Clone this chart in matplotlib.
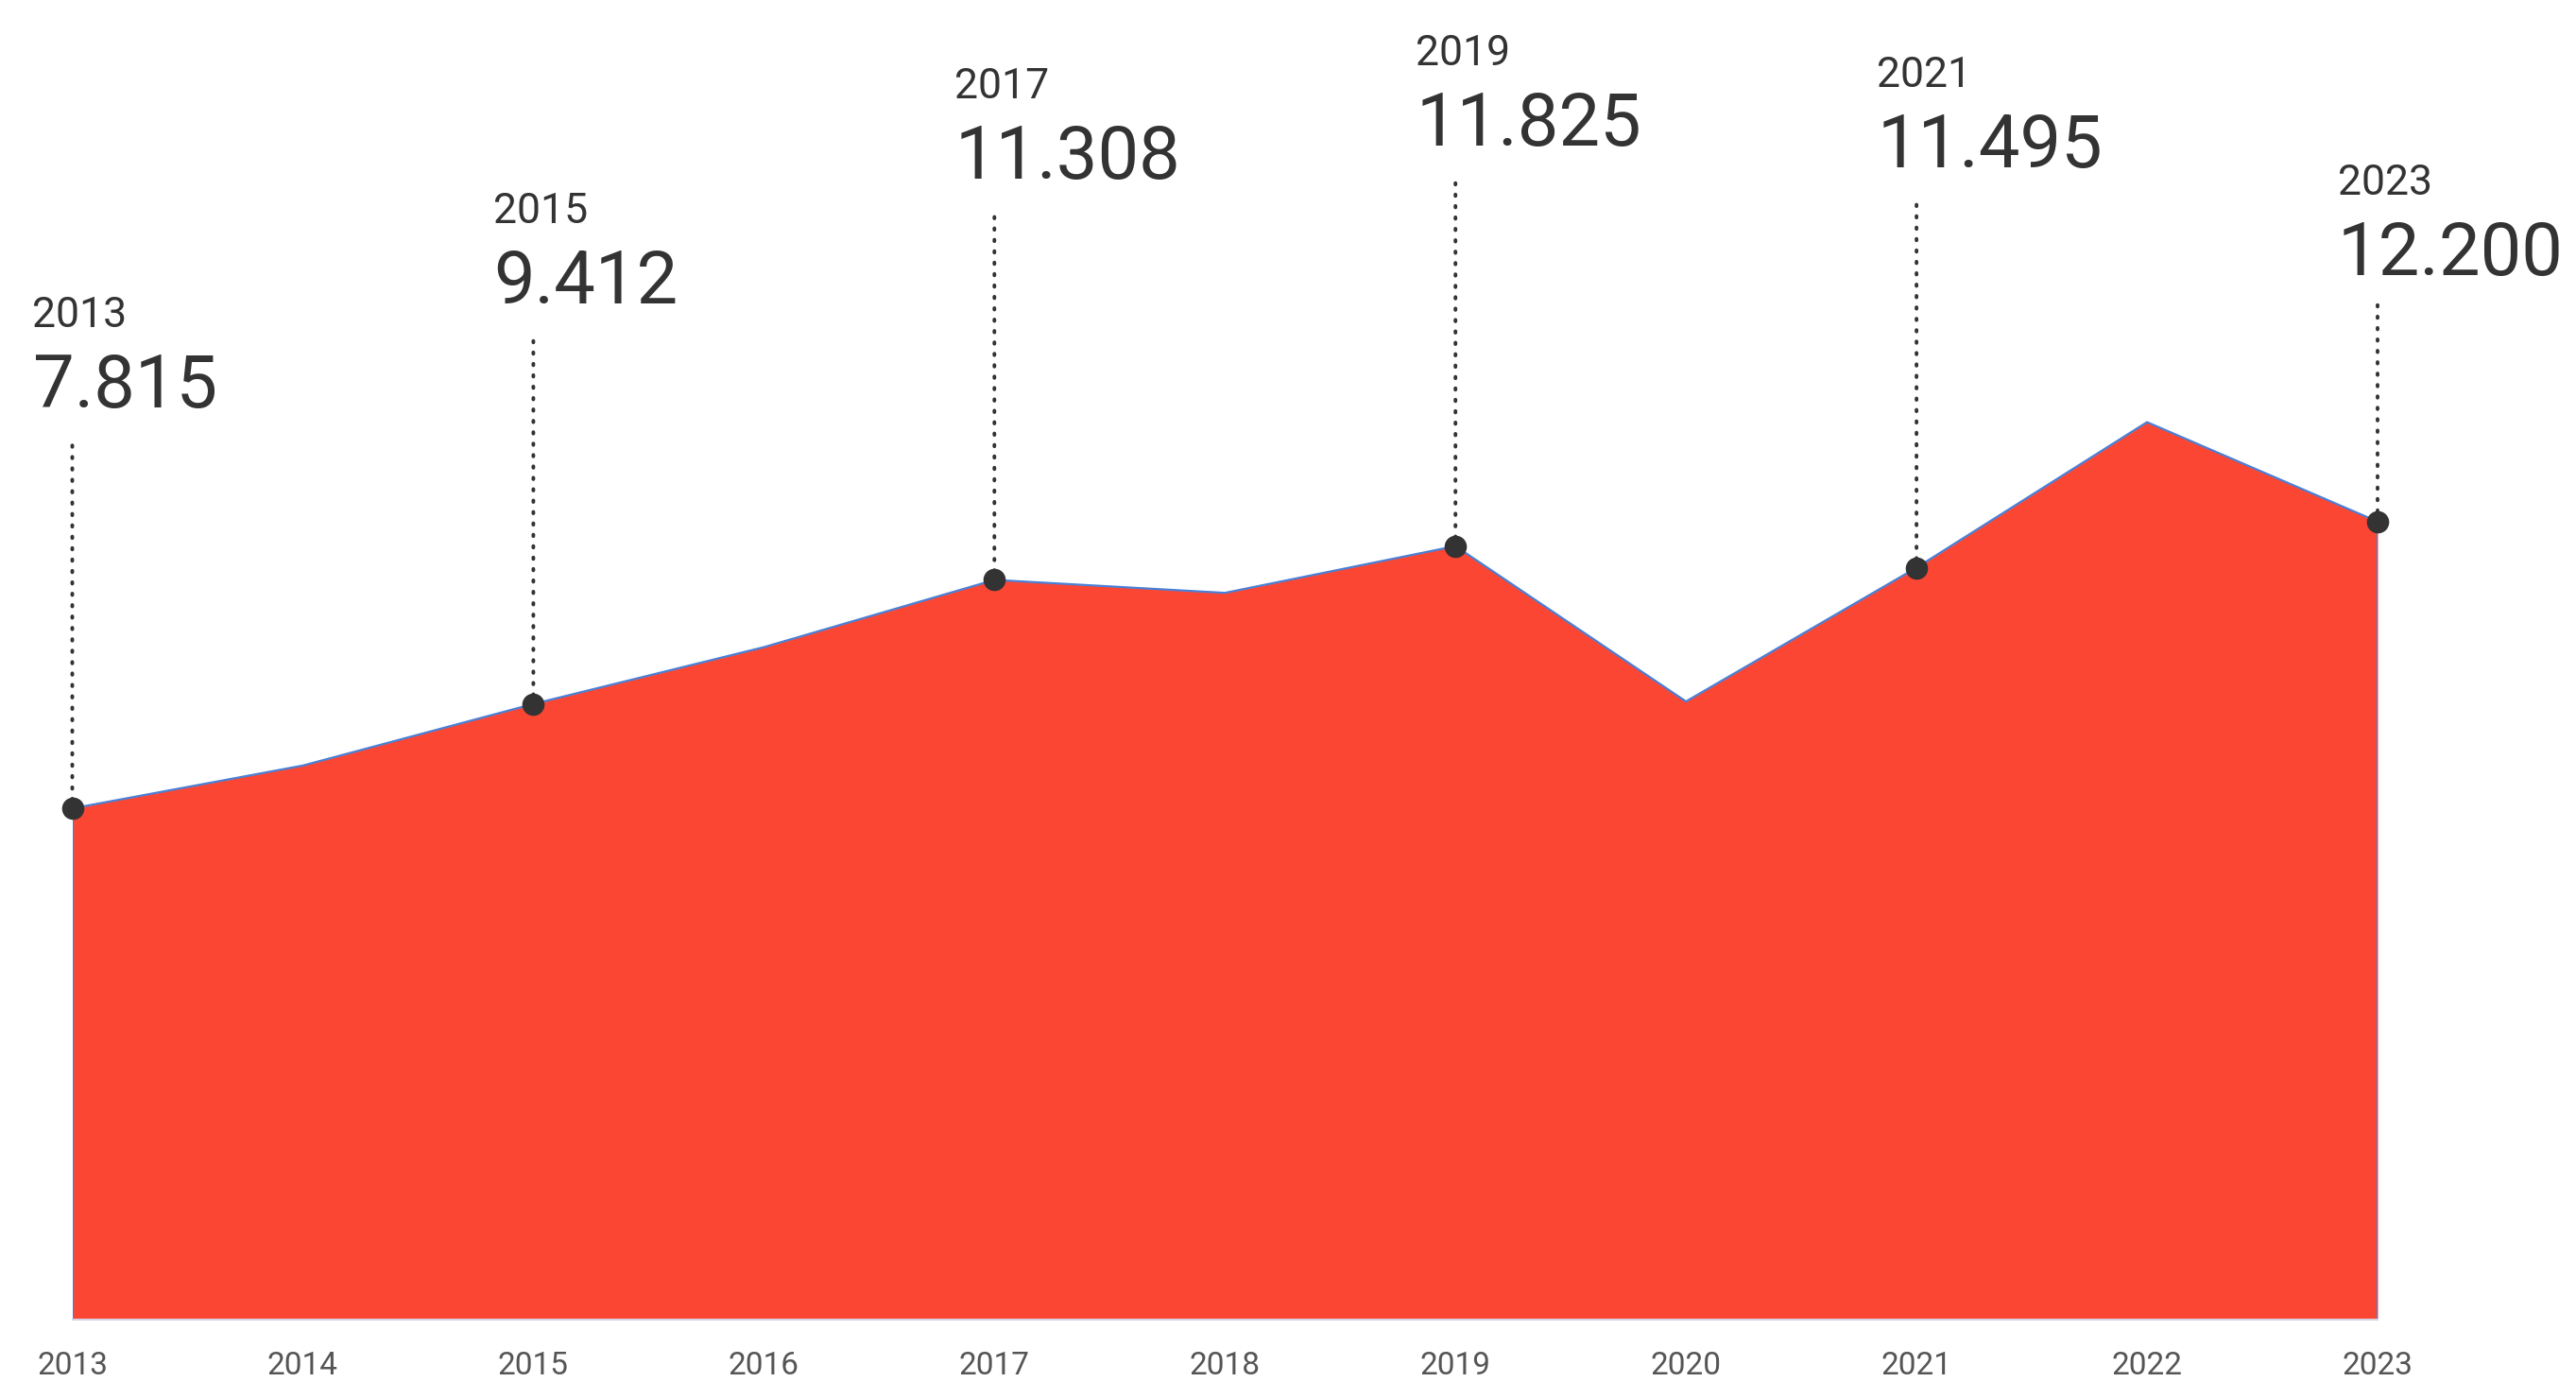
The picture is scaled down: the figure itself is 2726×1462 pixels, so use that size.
import matplotlib
matplotlib.use("Agg")
import matplotlib.pyplot as plt

years = [2013, 2014, 2015, 2016, 2017, 2018, 2019, 2020, 2021, 2022, 2023]
values = [7.815, 8.47, 9.412, 10.28, 11.308, 11.11, 11.825, 9.45, 11.495, 13.72, 12.200]
label_years = [2013, 2015, 2017, 2019, 2021, 2023]
label_texts = ["7.815", "9.412", "11.308", "11.825", "11.495", "12.200"]

W, H = 2726, 1462
plt.rcParams['font.family'] = ['Roboto', 'DejaVu Sans']
fig = plt.figure(figsize=(W / 100, H / 100), dpi=100)
fig.patch.set_facecolor('white')

x0, x1, yb = 76.5, 2516, 1396
ax = fig.add_axes([x0 / W, 1 - yb / H, (x1 - x0) / W, yb / H])
ax.set_xlim(2013, 2023)
ax.set_ylim(0, yb / 69.2)

RED = '#FC4634'
BLUE = '#4A7FD4'
TXT = '#333333'

ax.fill_between(years, values, 0, color=RED, linewidth=0, zorder=1)
ax.plot(years, values, color=BLUE, lw=1.6, zorder=2)
ax.plot([years[0], years[0]], [0, values[0]], color=BLUE, lw=1.6, zorder=2)
ax.plot([years[-1], years[-1]], [0, values[-1]], color=BLUE, lw=1.6, zorder=2)

for s in ['top', 'left', 'right']:
    ax.spines[s].set_visible(False)
ax.spines['bottom'].set_color('#D4D4E6')
ax.spines['bottom'].set_linewidth(1.5)
ax.spines['bottom'].set_zorder(3)
ax.set_yticks([])
ax.set_xticks(years)
ax.set_xticklabels([str(y) for y in years])
ax.tick_params(axis='x', length=0, pad=24, labelsize=24, labelcolor='#555555')

# annotation layout (pixel offsets from the point)
line_len = {2023: 229}
val_off = {2023: 261}
yr_off = {2023: 346}

for yr, txt in zip(label_years, label_texts):
    v = values[years.index(yr)]
    L = line_len.get(yr, 384)
    vo = val_off.get(yr, 424)
    yo = yr_off.get(yr, 509)
    ax.plot(yr, v, 'o', color=TXT, ms=16, zorder=5, clip_on=False)
    ax.annotate('', xy=(yr, v), xytext=(0, L), textcoords='offset pixels',
                xycoords='data',
                arrowprops=dict(arrowstyle='-', color=TXT, lw=2.8,
                                linestyle=(0, (0.4, 2.7)), shrinkA=0, shrinkB=6,
                                capstyle='round'),
                annotation_clip=False, zorder=4)
    ax.annotate(txt, xy=(yr, v), xytext=(-42, vo), textcoords='offset pixels',
                ha='left', va='baseline', fontsize=56, color=TXT,
                annotation_clip=False)
    ax.annotate(str(yr), xy=(yr, v), xytext=(-42, yo), textcoords='offset pixels',
                ha='left', va='baseline', fontsize=32, color=TXT,
                annotation_clip=False)

fig.savefig('out.png', dpi=100, facecolor='white')
